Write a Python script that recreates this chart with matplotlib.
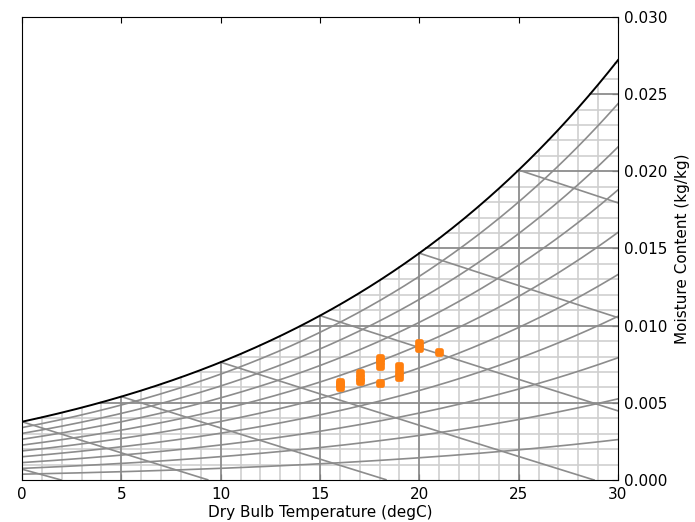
import matplotlib
matplotlib.use('Agg')
import matplotlib.pyplot as plt
from matplotlib.markers import MarkerStyle
from matplotlib.ticker import FormatStrFormatter
import numpy as np

# measured room conditions: dry bulb (degC) and moisture content (kg/kg)
temps = [16, 16, 16, 17, 17, 17, 18, 18, 18, 18, 19, 19, 19, 20, 20, 21]
moist = [0.00605, 0.0062, 0.00635, 0.0064, 0.0066, 0.0069, 0.0074, 0.0077, 0.0079,
         0.0063, 0.0067, 0.0070, 0.0074, 0.00855, 0.0089, 0.0083]

rh_levels = [0.1, 0.2, 0.3, 0.4, 0.5, 0.6, 0.7, 0.8, 0.9]
wetbulb_levels = [-5, 0, 5, 10, 15, 20, 25]

P_ATM = 101325.0
T_MIN, T_MAX = 0, 30
W_MAX = 0.030


def p_ws(t):
    # Hyland-Wexler saturation pressure (Pa), over ice below 0 degC
    tk = np.asarray(t, dtype=float) + 273.15
    water = np.exp(-5.8002206e3 / tk + 1.3914993 - 4.8640239e-2 * tk + 4.1764768e-5 * tk**2
                   - 1.4452093e-8 * tk**3 + 6.5459673 * np.log(tk))
    ice = np.exp(-5.6745359e3 / tk + 6.3925247 - 9.677843e-3 * tk + 6.2215701e-7 * tk**2
                 + 2.0747825e-9 * tk**3 - 9.484024e-13 * tk**4 + 4.1635019 * np.log(tk))
    return np.where(tk >= 273.15, water, ice)


def w_of(pw):
    return 0.622 * pw / (P_ATM - pw)


def w_sat(t):
    return w_of(p_ws(t))


def t_dew(w):
    pw = w * P_ATM / (0.622 + w)
    tt = np.linspace(-20, 40, 6001)
    return np.interp(pw, p_ws(tt), tt)


def w_wetbulb(t, twb):
    ws = w_sat(twb)
    if twb >= 0:
        return ((2501 - 2.326 * twb) * ws - 1.006 * (t - twb)) / (2501 + 1.86 * t - 4.186 * twb)
    return ((2830 - 0.24 * twb) * ws - 1.006 * (t - twb)) / (2830 + 1.86 * t - 2.1 * twb)


fig = plt.figure(figsize=(6.95, 5.22), dpi=100)
ax = fig.add_axes([0.0317, 0.0805, 0.8575, 0.887])

minor_c = '#cfcfcf'
line_c = '#8c8c8c'

# vertical grid up to the saturation curve
for t in range(T_MIN + 1, T_MAX):
    major = t % 5 == 0
    ax.plot([t, t], [0, w_sat(t)], color=line_c if major else minor_c,
            lw=1.3 if major else 1.2, zorder=2 if major else 1)

# horizontal grid from the dew point to the right edge
for k in range(1, 31):
    w = k * 0.001
    t0 = max(T_MIN, t_dew(w))
    if t0 >= T_MAX:
        continue
    major = k % 5 == 0
    ax.plot([t0, T_MAX], [w, w], color=line_c if major else minor_c,
            lw=1.3 if major else 1.2, zorder=2 if major else 1)

tt = np.linspace(T_MIN, T_MAX, 300)

# relative humidity curves
for rh in rh_levels:
    ax.plot(tt, w_of(rh * p_ws(tt)), color=line_c, lw=1.2, zorder=2)

# wet bulb lines
for twb in wetbulb_levels:
    t_line = np.linspace(max(twb, T_MIN), T_MAX, 200)
    w_line = w_wetbulb(t_line, twb)
    keep = w_line >= 0
    ax.plot(t_line[keep], w_line[keep], color=line_c, lw=1.2, zorder=2)

# saturation curve
ax.plot(tt, w_sat(tt), color='black', lw=1.4, zorder=3)

ax.plot(temps, moist, linestyle='none',
        marker=MarkerStyle('s', joinstyle='round'), markersize=3.4,
        markeredgewidth=3.4, color='#ff7f0e', zorder=5)

ax.set_xlim(T_MIN, T_MAX)
ax.set_ylim(0, W_MAX)
ax.set_xticks(range(0, 31, 5))
ax.set_yticks(np.arange(0, 0.0301, 0.005))
ax.yaxis.set_major_formatter(FormatStrFormatter('%.3f'))
ax.yaxis.tick_right()
ax.yaxis.set_label_position('right')
ax.tick_params(axis='x', direction='in', top=True, bottom=True, length=4, labelsize=11, pad=5)
ax.tick_params(axis='y', direction='in', left=False, right=True, length=4, labelsize=11, pad=4)
ax.set_xlabel('Dry Bulb Temperature (degC)', fontsize=11, labelpad=2)
ax.set_ylabel('Moisture Content (kg/kg)', fontsize=11, labelpad=6)

fig.savefig('out.png', dpi=100)
